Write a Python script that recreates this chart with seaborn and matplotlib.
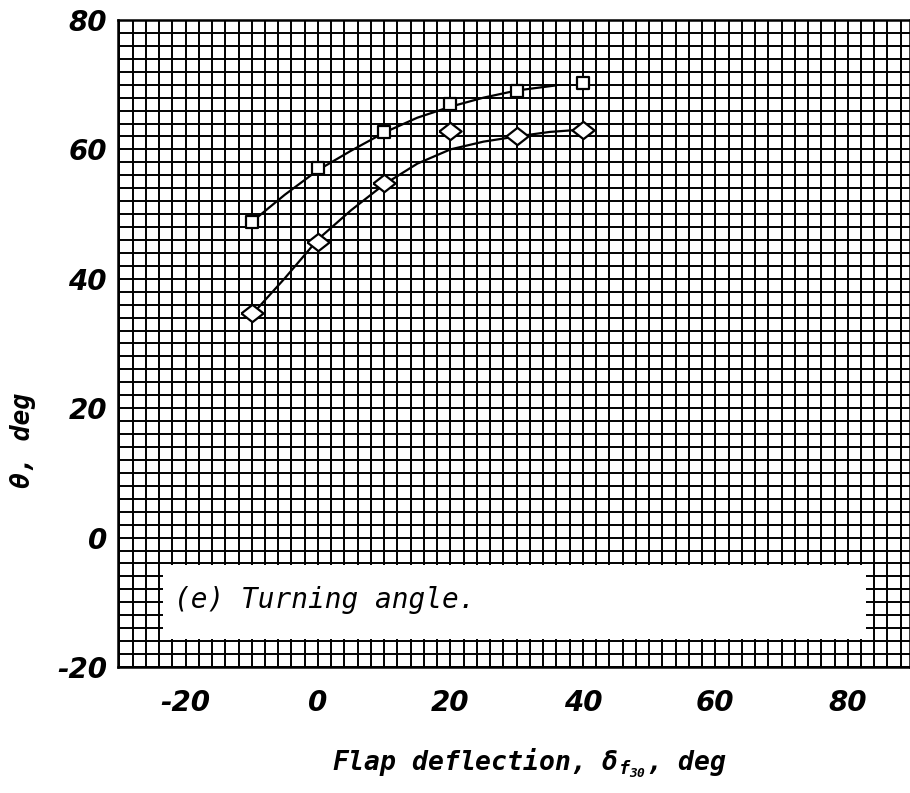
import numpy as np
import pandas as pd
import matplotlib
matplotlib.use("Agg")
import matplotlib.pyplot as plt
from matplotlib.ticker import MultipleLocator
from matplotlib.patches import Rectangle
import seaborn as sns

# Measured points: turning angle vs flap deflection
flap_deg = [-10, 0, 10, 20, 30, 40]
theta_square = [48.8, 57.1, 62.7, 67.0, 69.0, 70.2]
theta_diamond = [34.7, 45.7, 54.8, 62.8, 62.0, 63.0]

# Faired curves through the measured points
fair_sq_x = [-10, -5, 0, 5, 10, 15, 20, 25, 30, 36]
fair_sq_y = [48.8, 53.0, 56.8, 59.8, 62.6, 64.9, 66.6, 68.0, 69.1, 69.9]
fair_di_x = [-9.5, -5, 0, 5, 10, 15, 20, 25, 30, 35, 39]
fair_di_y = [35.0, 40.1, 46.1, 50.6, 54.6, 57.8, 60.0, 61.2, 62.0, 62.7, 63.0]

x_ticks = [-20, 0, 20, 40, 60, 80]
y_ticks = [-20, 0, 20, 40, 60, 80]
tick_labels_x = ["-20", "0", "20", "40", "60", "80"]
tick_labels_y = ["-20", "0", "20", "40", "60", "80"]

sns.set_style("white")
plt.rcParams["font.family"] = ["DejaVu Sans"]
plt.rcParams["text.color"] = "black"
plt.rcParams["axes.labelcolor"] = "black"
plt.rcParams["xtick.color"] = "black"
plt.rcParams["ytick.color"] = "black"
plt.rcParams["axes.unicode_minus"] = False
plt.rcParams["mathtext.fontset"] = "custom"
plt.rcParams["mathtext.it"] = "DejaVu Sans Mono:italic:bold"
plt.rcParams["mathtext.rm"] = "DejaVu Sans Mono:bold:italic"
plt.rcParams["mathtext.default"] = "it"

MONO = "DejaVu Sans Mono"

W, H = 910, 793
fig = plt.figure(figsize=(W / 100, H / 100), dpi=100)
ax = fig.add_axes([118 / W, 1 - 667 / H, 792 / W, 647 / H])

ax.set_xlim(-30.2, 89.4)
ax.set_ylim(-20, 80)

# dense graph-paper grid
ax.set_axisbelow(True)
ax.xaxis.set_minor_locator(MultipleLocator(2))
ax.yaxis.set_minor_locator(MultipleLocator(2))
ax.grid(which="both", color="black", linewidth=1.4)

curves = pd.concat([
    pd.DataFrame({"x": fair_sq_x, "y": fair_sq_y, "series": "square"}),
    pd.DataFrame({"x": fair_di_x, "y": fair_di_y, "series": "diamond"}),
])
sns.lineplot(data=curves, x="x", y="y", units="series", estimator=None,
             sort=False, color="black", linewidth=1.6, ax=ax, zorder=3)

pts_sq = pd.DataFrame({"x": flap_deg, "y": theta_square})
pts_di = pd.DataFrame({"x": flap_deg, "y": theta_diamond})
flat_diamond = [(-1, 0), (0, 0.78), (1, 0), (0, -0.78), (-1, 0)]
sns.scatterplot(data=pts_sq, x="x", y="y", marker="s", s=9 ** 2,
                facecolor="white", edgecolor="black", linewidth=1.6,
                ax=ax, zorder=4)
sns.scatterplot(data=pts_di, x="x", y="y", marker=flat_diamond, s=16 ** 2,
                facecolor="white", edgecolor="black", linewidth=1.6,
                ax=ax, zorder=4)

# caption panel
ax.add_patch(Rectangle((-23.4, -15.6), 106.1, 11.4, facecolor="white",
                       edgecolor="none", zorder=2))
ax.text(-21.8, -9.7, "(e) Turning angle.", fontsize=20, style="italic",
        family=MONO, ha="left", va="center", zorder=5)

ax.set_xticks(x_ticks, tick_labels_x)
ax.set_yticks(y_ticks, tick_labels_y)
ax.tick_params(axis="both", which="both", length=0)
ax.tick_params(axis="x", pad=16)
ax.tick_params(axis="y", pad=8)
for lab in ax.get_xticklabels() + ax.get_yticklabels():
    lab.set_fontsize(20)
    lab.set_fontweight("bold")
    lab.set_fontstyle("italic")

for sp in ax.spines.values():
    sp.set_color("black")
    sp.set_linewidth(1.8)

ax.set_xlabel("Flap deflection, δ$_{f_{30}}$, deg", fontsize=19,
              fontweight="bold", fontstyle="italic", family=MONO)
ax.set_ylabel("θ, deg", fontsize=19, fontweight="bold", fontstyle="italic",
              family=MONO)
ax.xaxis.set_label_coords(0.52, -0.122)
ax.yaxis.set_label_coords(-0.103, 0.35)

fig.savefig("out.png", dpi=100)
